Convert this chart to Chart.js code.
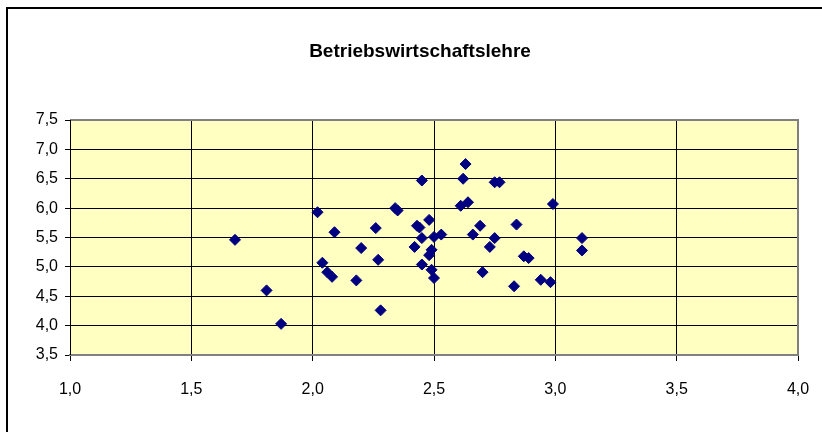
<!DOCTYPE html>
<html>
<head>
<meta charset="utf-8">
<script src="https://cdn.jsdelivr.net/npm/chart.js@4/dist/chart.umd.min.js"></script>
<style>
    body { margin: 0; background: #fff; }
</style>
</head>
<body>
<canvas id="bwlChart" width="822" height="432"></canvas>
<script>
const chartTitle = 'Betriebswirtschaftslehre';

// x / y pairs
const xValues = [1.68, 1.81, 1.87, 2.02, 2.04, 2.06, 2.08, 2.09, 2.18, 2.20, 2.26, 2.27, 2.28,
    2.34, 2.35, 2.42, 2.43, 2.44, 2.45, 2.45, 2.45, 2.48, 2.48, 2.49, 2.49, 2.50, 2.50, 2.53,
    2.61, 2.62, 2.63, 2.64, 2.66, 2.69, 2.70, 2.73, 2.75, 2.75, 2.77, 2.83, 2.84, 2.87, 2.89,
    2.94, 2.98, 2.99, 3.11, 3.11];
const yValues = [5.46, 4.60, 4.03, 5.93, 5.07, 4.91, 4.83, 5.59, 4.77, 5.32, 5.66, 5.12, 4.26,
    6.00, 5.96, 5.34, 5.70, 5.67, 6.47, 5.49, 5.04, 5.80, 5.20, 5.29, 4.95, 5.51, 4.81, 5.55,
    6.04, 6.50, 6.75, 6.10, 5.55, 5.70, 4.91, 5.34, 6.44, 5.49, 6.44, 4.67, 5.72, 5.18, 5.15,
    4.78, 4.74, 6.07, 5.49, 5.28];

const xMin = 1.0, xMax = 4.0, xStep = 0.5;
const yMin = 3.5, yMax = 7.5, yStep = 0.5;

function formatTick(value) {
    return value.toFixed(1).replace('.', ',');
}

const points = xValues.map(function (x, i) {
    return { x: x, y: yValues[i] };
});

// yellow plot area, grey frame, outer chart border and the title
const framePlugin = {
    id: 'frame',
    beforeDraw: function (chart) {
        const ctx = chart.ctx;
        const a = chart.chartArea;
        ctx.save();
        ctx.fillStyle = '#ffffc2';
        ctx.fillRect(a.left, a.top, a.right - a.left, a.bottom - a.top);
        ctx.strokeStyle = '#000';
        ctx.lineWidth = 2;
        ctx.strokeRect(7, 8, chart.width + 10, chart.height + 10);

        // title sits centred inside the bordered box, not over the canvas
        ctx.fillStyle = '#000';
        ctx.font = 'bold 19px "Liberation Sans", Arial, sans-serif';
        ctx.textAlign = 'center';
        ctx.textBaseline = 'alphabetic';
        ctx.fillText(chartTitle, (chart.width + 18) / 2, 57);
        ctx.restore();
    },
    beforeDatasetsDraw: function (chart) {
        const ctx = chart.ctx;
        const a = chart.chartArea;
        ctx.save();
        ctx.strokeStyle = '#808080';
        ctx.lineWidth = 2;
        ctx.beginPath();
        ctx.moveTo(a.left, a.top);
        ctx.lineTo(a.right, a.top);
        ctx.lineTo(a.right, a.bottom);
        ctx.lineTo(a.left, a.bottom);
        ctx.stroke();
        ctx.strokeStyle = '#000';
        ctx.lineWidth = 1;
        ctx.beginPath();
        ctx.moveTo(a.left + 0.5, a.top);
        ctx.lineTo(a.left + 0.5, a.bottom);
        ctx.stroke();
        ctx.restore();
    }
};

const ctx = document.getElementById('bwlChart').getContext('2d');
new Chart(ctx, {
    type: 'scatter',
    data: {
        datasets: [{
            label: chartTitle,
            data: points,
            pointStyle: 'rectRot',
            pointRadius: 5.5,
            pointHoverRadius: 5.5,
            backgroundColor: '#000080',
            borderColor: '#000080',
            borderWidth: 1
        }]
    },
    options: {
        responsive: false,
        animation: false,
        devicePixelRatio: 1,
        layout: {
            padding: { left: 0, right: 24, top: 120, bottom: 0 }
        },
        plugins: {
            legend: { display: false },
            tooltip: { enabled: false },
            title: { display: false }
        },
        scales: {
            x: {
                type: 'linear',
                min: xMin,
                max: xMax,
                afterFit: function (scale) {
                    scale.height = 77;
                    scale.paddingLeft = 0;
                    scale.paddingRight = 0;
                },
                ticks: {
                    stepSize: xStep,
                    padding: 19,
                    color: '#000',
                    font: { family: '"Liberation Sans", Arial, sans-serif', size: 16 },
                    callback: formatTick
                },
                grid: {
                    color: '#000',
                    lineWidth: 1,
                    tickLength: 6,
                    tickColor: '#000'
                },
                border: { color: '#808080', width: 2 }
            },
            y: {
                type: 'linear',
                min: yMin,
                max: yMax,
                afterFit: function (scale) {
                    scale.width = 70;
                    scale.paddingTop = 0;
                    scale.paddingBottom = 0;
                },
                ticks: {
                    stepSize: yStep,
                    padding: 7,
                    color: '#000',
                    font: { family: '"Liberation Sans", Arial, sans-serif', size: 16 },
                    callback: formatTick
                },
                grid: {
                    color: '#000',
                    lineWidth: 1,
                    tickLength: 5,
                    tickColor: '#000'
                },
                border: { color: '#000', width: 1 }
            }
        }
    },
    plugins: [framePlugin]
});
</script>
</body>
</html>
